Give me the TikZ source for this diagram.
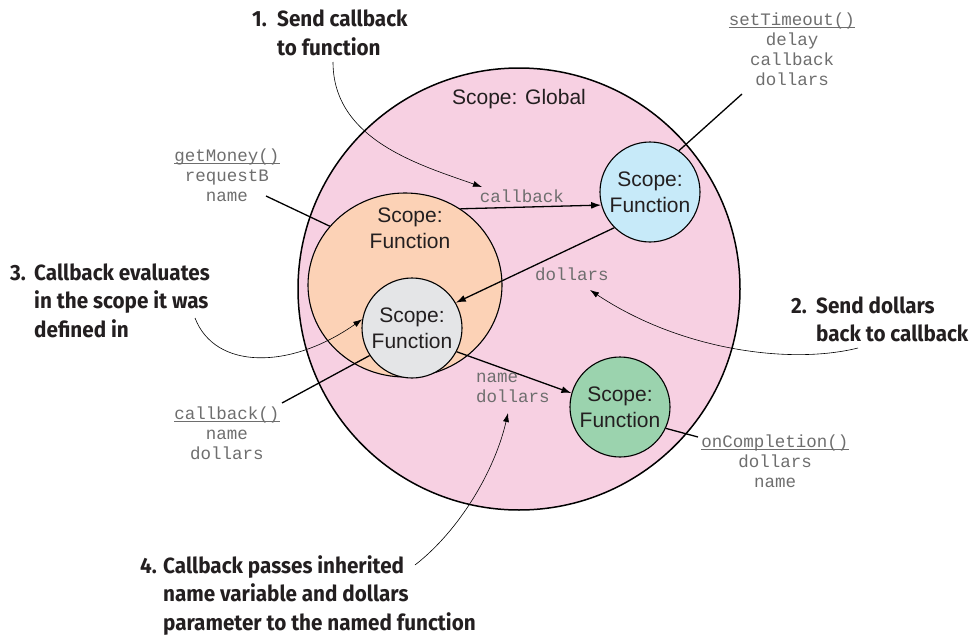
\documentclass[tikz,border=0pt]{standalone}
\usepackage{fontspec}
\setmainfont{Liberation Sans}
\newfontfamily\codefont{Liberation Mono}
\newfontfamily\annotfont[FakeStretch=0.94]{Fira Sans}
\usetikzlibrary{arrows.meta,shapes.geometric}
\definecolor{globalpink}{RGB}{247,208,226}
\definecolor{orangefill}{RGB}{252,210,182}
\definecolor{grayfill}{RGB}{228,229,231}
\definecolor{bluefill}{RGB}{199,234,249}
\definecolor{greenfill}{RGB}{155,211,174}
\definecolor{codegray}{RGB}{110,110,110}
\definecolor{annotblack}{RGB}{35,31,32}
\newcommand{\fnname}[1]{\underline{\smash{#1}}}
\begin{document}
\begin{tikzpicture}[x=1pt,y=-1pt,
  scopetext/.style={font=\fontsize{21}{26}\selectfont,text=annotblack,align=center,inner sep=0pt},
  scopecirc/.style={circle,draw,line width=1.1pt,minimum size=100pt,inner sep=0pt,scopetext},
  code/.style={font=\codefont\fontsize{17.5}{20}\selectfont,text=codegray,align=center,inner sep=0pt},
  annot/.style={font=\annotfont\bfseries\fontsize{22}{28.5}\selectfont,text=annotblack,inner sep=0pt,anchor=base west},
  flow/.style={line width=1.3pt,-{Latex[length=10pt,width=7pt]}},
  tie/.style={line width=1.3pt},
  note/.style={line width=0.6pt,-{Latex[length=9pt,width=6pt]}},
]
\useasboundingbox (0,0) rectangle (972,637);
% scopes
\node[circle,draw,fill=globalpink,line width=1.5pt,minimum size=442pt,inner sep=0pt] (global) at (519,289) {};
\node[scopetext] (globallabel) at (519,99) {Scope: Global};
\node[ellipse,draw,fill=orangefill,line width=1.1pt,minimum width=194pt,minimum height=184pt,inner sep=0pt] (outer) at (405,285) {};
\node[scopetext] (outerlabel) at (410,228) {Scope:\\Function};
\node[scopecirc,fill=grayfill] (cb) at (412,328) {Scope:\\Function};
\node[scopecirc,fill=bluefill] (timer) at (650,192) {Scope:\\Function};
\node[scopecirc,fill=greenfill] (done) at (620,407) {Scope:\\Function};
% flow arrows and labels
\draw[flow] (outer.54) -- (timer.195);
\node[code] (lblcallback) at (522,196) {callback};
\draw[flow] (timer.225) -- (cb.30);
\node[code] (lbldollars) at (572,274) {dollars};
\draw[flow] (cb.-28) -- (done.164);
\node[code,align=left,anchor=west] (lblpass) at (476,388) {name\\dollars};
% function parameter lists
\node[code] (getmoney) at (227,182) {\fnname{getMoney()}\\requestB\\name};
\coordinate (gmtail) at (266,196);
\draw[tie] (gmtail) -- (outer.142);
\node[code] (settimeout) at (792,56) {\fnname{setTimeout()}\\delay\\callback\\dollars};
\coordinate (sttail) at (742,94);
\draw[tie] (sttail) -- (timer.55);
\node[code] (cbdef) at (227,440) {\fnname{callback()}\\name\\dollars};
\coordinate (cbtail) at (282,403);
\draw[tie] (cbtail) -- (cb.213);
\node[code] (oncomp) at (775,468) {\fnname{onCompletion()}\\dollars\\name};
\coordinate (octail) at (698,437);
\draw[tie] (done.-25) -- (octail);
% annotations
\node[annot] (n1) at (252,27) {\begin{tabular}[t]{@{}p{25pt}@{}l@{}}1.&Send callback\\&to function\end{tabular}};
\node[annot] (n2) at (791,313) {\begin{tabular}[t]{@{}p{25pt}@{}l@{}}2.&Send dollars\\&back to callback\end{tabular}};
\node[annot] (n3) at (10,280) {\begin{tabular}[t]{@{}p{24pt}@{}l@{}}3.&Callback evaluates\\&in the scope it was\\&defined in\end{tabular}};
\node[annot] (n4) at (140,573) {\begin{tabular}[t]{@{}p{23pt}@{}l@{}}4.&Callback passes inherited\\&name variable and dollars\\&parameter to the named function\end{tabular}};
\coordinate (a1s) at (333,62);
\coordinate (a1e) at (482,187);
\draw[note] (a1s) .. controls (333,140) and (420,165) .. (a1e);
\coordinate (a2s) at (858,348);
\coordinate (a2e) at (590,290);
\draw[note] (a2s) .. controls (790,365) and (680,350) .. (a2e);
\coordinate (a3s) at (195,318);
\draw[note] (a3s) .. controls (215,370) and (290,370) .. (cb.170);
\coordinate (a4s) at (415,565);
\coordinate (a4e) at (508,413);
\draw[note] (a4s) .. controls (460,530) and (495,470) .. (a4e);
\end{tikzpicture}
\end{document}
